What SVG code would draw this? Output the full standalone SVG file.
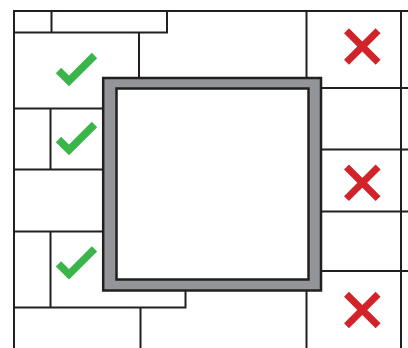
<svg xmlns="http://www.w3.org/2000/svg" width="408" height="348" viewBox="0 0 408 348">
<style>
.g{stroke:#231f20;stroke-width:2;fill:none;stroke-linecap:square}
.ok{stroke:#39b54a;stroke-width:7.5;fill:none;stroke-linejoin:miter;stroke-linecap:butt}
.no{stroke:#d2232a;stroke-width:7;fill:none;stroke-linecap:butt}
</style>
<rect width="408" height="348" fill="#fff"/>
<g id="grid" class="g">
<path d="M14 11H408M14 11V348M14 32.5H167M51.5 11V32.5M167 11V32.5M139 32.5V77"/>
<path d="M14 108.5H102M50.5 108.5V169.5M14 169.5H102M14 231.5H102M50.5 231.5V307.5M14 307.5H185.5M185.5 291V307.5M140.5 307.5V348"/>
<path d="M306.5 11V77M306.5 291V348M401 11V348"/>
<path d="M322 88H408M322 149.5H408M322 211.5H408M322 271H408"/>
</g>
<g id="frame">
<rect x="103.2" y="78" width="217.8" height="212.5" fill="#939598" stroke="#231f20" stroke-width="2.5"/>
<rect x="116.5" y="88.5" width="192" height="191" fill="#fff" stroke="#231f20" stroke-width="2.5"/>
</g>
<g id="checks" class="ok">
<polyline points="58.5,70.5 69,81 94.5,55.5"/>
<polyline points="58.5,139.5 69,150 94.5,124.5"/>
<polyline points="58.5,263.8 69,274.3 94.5,248.8"/>
</g>
<g id="crosses" class="no">
<path d="M346.5 30.7L378.1 62.3M378.1 30.7L346.5 62.3"/>
<path d="M346.5 167L378.1 198.6M378.1 167L346.5 198.6"/>
<path d="M346.5 294.2L378.1 325.8M378.1 294.2L346.5 325.8"/>
</g>
</svg>
